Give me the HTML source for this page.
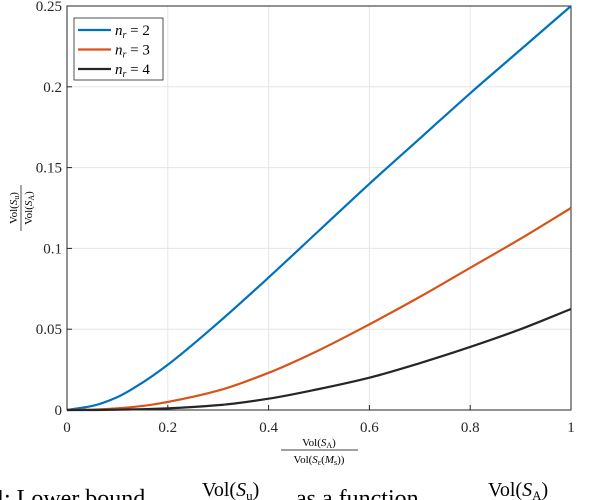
<!DOCTYPE html>
<html><head><meta charset="utf-8">
<style>
body{margin:0;background:#fff;width:610px;height:500px;overflow:hidden;font-family:"Liberation Serif",serif}
svg{display:block}
</style></head>
<body>
<svg id="chart" width="610" height="500" font-family="Liberation Serif, serif">
</svg>
<script>
const xValues=[0,0.05,0.1,0.15,0.2,0.3,0.4,0.5,0.6,0.7,0.8,0.9,1];
const seriesN2=[0,0.0025,0.008,0.017,0.028,0.054,0.082,0.111,0.140,0.168,0.196,0.223,0.25];
const seriesN3=[0,0.0002,0.001,0.0025,0.005,0.012,0.023,0.037,0.053,0.070,0.088,0.106,0.125];
const seriesN4=[0,0,0.0002,0.0005,0.001,0.003,0.007,0.013,0.020,0.029,0.039,0.050,0.0625];
const xTicks=[0,0.2,0.4,0.6,0.8,1];
const xTickLabels=["0","0.2","0.4","0.6","0.8","1"];
const yTicks=[0,0.05,0.1,0.15,0.2,0.25];
const yTickLabels=["0","0.05","0.1","0.15","0.2","0.25"];
const seriesNames=["n2","n3","n4"];
const legendLabels=["2","3","4"];

const svg=document.getElementById('chart');
const NS='http://www.w3.org/2000/svg';
const L=67,R=571,T=6,B=410;
const xs=v=>L+(R-L)*v;
const ys=v=>B-(B-T)*v/0.25;
function mk(tag,attrs,parent){const e=document.createElementNS(NS,tag);for(const k in attrs)e.setAttribute(k,attrs[k]);(parent||svg).appendChild(e);return e;}

xTicks.forEach((t,i)=>{
 const g=mk('line',{x1:xs(t),x2:xs(t),y1:T,y2:B,stroke:'#e6e6e6','stroke-width':1});
 
 
 const tx=mk('text',{x:xs(t),y:B+22,'text-anchor':'middle','font-size':15,fill:'#262626'});
 tx.textContent=xTickLabels[i];
 
 
 mk('line',{x1:xs(t),x2:xs(t),y1:B,y2:B-5,stroke:'#262626'});
});
yTicks.forEach((t,i)=>{
 const g=mk('line',{x1:L,x2:R,y1:ys(t),y2:ys(t),stroke:'#e6e6e6','stroke-width':1});
 
 
 const tx=mk('text',{x:L-5,y:ys(t)+5,'text-anchor':'end','font-size':15,fill:'#262626'});
 tx.textContent=yTickLabels[i];
 
 
 mk('line',{x1:L,x2:L+5,y1:ys(t),y2:ys(t),stroke:'#262626'});
});
const ax=mk('rect',{x:L,y:T,width:R-L,height:B-T,fill:'none',stroke:'#262626','stroke-width':1});



// monotone cubic (Fritsch-Carlson) smoothing through data points
function pathFor(vals){
 const n=xValues.length, X=xValues.map(xs), Y=vals.map(ys);
 const dx=[],m=[];
 for(let i=0;i<n-1;i++){dx.push(X[i+1]-X[i]);m.push((Y[i+1]-Y[i])/dx[i]);}
 const t=[m[0]];
 for(let i=1;i<n-1;i++){
  if(m[i-1]*m[i]<=0)t.push(0);
  else{const w1=2*dx[i]+dx[i-1],w2=dx[i]+2*dx[i-1];t.push((w1+w2)/(w1/m[i-1]+w2/m[i]));}
 }
 t.push(m[n-2]);
 let d='M'+X[0]+','+Y[0];
 for(let i=0;i<n-1;i++){
  const h=dx[i]/3;
  d+=' C'+(X[i]+h)+','+(Y[i]+t[i]*h)+' '+(X[i+1]-h)+','+(Y[i+1]-t[i+1]*h)+' '+X[i+1]+','+Y[i+1];
 }
 return d;
}
const colors=['#0072bd','#d95319','#262626'];
[seriesN2,seriesN3,seriesN4].forEach((s,i)=>{
 const e=mk('path',{d:pathFor(s),fill:'none',stroke:colors[i],'stroke-width':2.2});
 
 
});

const lg=mk('g',{});


mk('rect',{x:74,y:18,width:89,height:62,fill:'#fff',stroke:'#262626','stroke-width':0.8},lg);
legendLabels.forEach((lab,i)=>{
 const y=30+i*19.5;
 const ln=mk('line',{x1:78,x2:111,y1:y,y2:y,stroke:colors[i],'stroke-width':2.2},lg);
 
 
 const t=mk('text',{x:115,y:y+5,'font-size':15,fill:'#000'},lg);
 t.innerHTML='<tspan font-style="italic">n</tspan><tspan font-size="10" font-style="italic" dy="3">r</tspan><tspan dy="-3"> = '+lab+'</tspan>';
 
 
});

const xl=mk('g',{'font-size':11,'text-anchor':'middle'});


const xn=mk('text',{x:319,y:446},xl);
xn.innerHTML='Vol(<tspan font-style="italic">S</tspan><tspan font-size="8" dy="2">A</tspan><tspan dy="-2">)</tspan>';
mk('line',{x1:281,x2:358,y1:450,y2:450,stroke:'#000','stroke-width':0.7},xl);
const xd=mk('text',{x:319,y:463},xl);
xd.innerHTML='Vol(<tspan font-style="italic">S</tspan><tspan font-size="8" dy="2">ε</tspan><tspan dy="-2">(</tspan><tspan font-style="italic">M</tspan><tspan font-size="8" dy="2">s</tspan><tspan dy="-2">))</tspan>';

const yl=mk('g',{'font-size':11,'text-anchor':'middle',transform:'translate(20,208) rotate(-90)'});


const yn=mk('text',{x:0,y:-3},yl);
yn.innerHTML='Vol(<tspan font-style="italic">S</tspan><tspan font-size="8" dy="2">u</tspan><tspan dy="-2">)</tspan>';
mk('line',{x1:-23,x2:23,y1:1,y2:1,stroke:'#000','stroke-width':0.7},yl);
const yd=mk('text',{x:0,y:12},yl);
yd.innerHTML='Vol(<tspan font-style="italic">S</tspan><tspan font-size="8" dy="2">A</tspan><tspan dy="-2">)</tspan>';

const cap=mk('g',{'font-size':24});


mk('text',{x:-8,y:506},cap).textContent='4: Lower bound';
const c1=mk('text',{x:202,y:496,'font-size':20},cap);c1.innerHTML='Vol(<tspan font-style="italic">S</tspan><tspan font-size="13" dy="4">u</tspan><tspan dy="-4">)</tspan>';
mk('text',{x:296,y:506},cap).textContent='as a function';
const c2=mk('text',{x:488,y:496,'font-size':20},cap);c2.innerHTML='Vol(<tspan font-style="italic">S</tspan><tspan font-size="13" dy="4">A</tspan><tspan dy="-4">)</tspan>';
</script>
</body></html>
